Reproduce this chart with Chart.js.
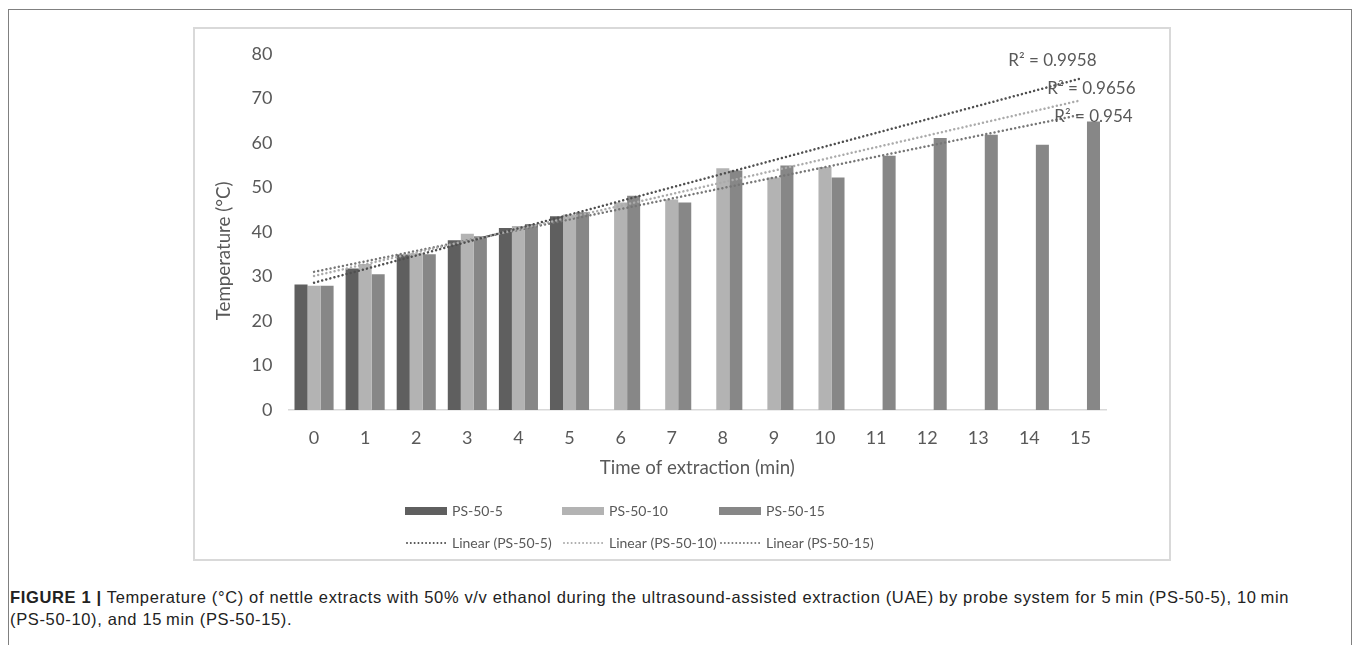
<!DOCTYPE html>
<html>
<head>
<meta charset="utf-8">
<script src="https://cdn.jsdelivr.net/npm/chart.js@4.4.1/dist/chart.umd.min.js"></script>
<style>
  html, body { margin: 0; padding: 0; background: #fff; }
  body { width: 1357px; height: 645px; position: relative; overflow: hidden; }
  #frame {
    position: absolute; left: 8px; top: 9px; width: 1344px; height: 700px;
    border: 1.5px solid #808080; box-sizing: border-box;
  }
  #box {
    position: absolute; left: 193px; top: 27px; width: 978px; height: 534px;
    border: 2px solid #d9d9d9; box-sizing: border-box; background: #fff;
  }
  #wrap { position: absolute; left: 193px; top: 27px; width: 978px; height: 534px; }
  #caption {
    position: absolute; left: 10px; top: 586px; width: 1340px;
    font-family: "Liberation Sans", Arial, sans-serif; font-size: 16.5px;
    letter-spacing: 0.65px; line-height: 22px; color: #222; white-space: nowrap;
  }
  #caption b { font-weight: bold; }
</style>
</head>
<body>
<div id="frame"></div>
<div id="box"></div>
<div id="wrap"><canvas id="chart" width="978" height="534"></canvas></div>
<div id="caption"><b>FIGURE 1 |</b> Temperature (°C) of nettle extracts with 50% v/v ethanol during the ultrasound-assisted extraction (UAE) by probe system for 5&#8201;min (PS-50-5), 10&#8201;min<br>(PS-50-10), and 15&#8201;min (PS-50-15).</div>
<script>
// Extraction time (min) on the category axis
const categories = ['0','1','2','3','4','5','6','7','8','9','10','11','12','13','14','15'];

// Temperature (°C) for each probe run
const ps50_5  = [28.2, 31.8, 34.9, 38.1, 40.9, 43.5, null, null, null, null, null, null, null, null, null, null];
const ps50_10 = [27.9, 32.8, 35.2, 39.6, 41.3, 43.9, 46.6, 47.3, 54.3, 52.2, 54.6, null, null, null, null, null];
const ps50_15 = [27.9, 30.5, 35.0, 39.0, 41.8, 44.4, 48.1, 46.6, 53.8, 54.9, 52.2, 57.1, 61.1, 61.8, 59.6, 64.8];

const seriesNames = ['PS-50-5', 'PS-50-10', 'PS-50-15'];
const trendNames  = ['Linear (PS-50-5)', 'Linear (PS-50-10)', 'Linear (PS-50-15)'];
const r2Labels    = ['R\u00B2 = 0.9958', 'R\u00B2 = 0.9656', 'R\u00B2 = 0.954'];
const yTitle = 'Temperature (°C)';
const xTitle = 'Time of extraction (min)';

// Value axis
const yMin = 0, yMax = 80, yStep = 10;

// Styling
const barColors   = ['#5f5f5f', '#b3b3b3', '#878787'];
const trendColors = ['#4f4f4f', '#ababab', '#767676'];
const FONT = 'Lato, "Open Sans", sans-serif';
const TEXT = '#595959';
const FS = 17;
const TICK_FS = 18;
const TITLE_FS = 18.7;
const LEGEND_FS = 14;
// where each R² caption sits relative to the end of its trend line (px)
const r2Offsets = [[-28, -18], [11, -12], [13, 2]];

// least-squares line through the non-empty points of a series
function linearFit(values) {
  const pts = values.map((v, i) => [i, v]).filter(p => p[1] !== null);
  const n = pts.length;
  const mx = pts.reduce((s, p) => s + p[0], 0) / n;
  const my = pts.reduce((s, p) => s + p[1], 0) / n;
  let sxy = 0, sxx = 0;
  pts.forEach(p => { sxy += (p[0] - mx) * (p[1] - my); sxx += (p[0] - mx) ** 2; });
  const slope = sxy / sxx;
  return { slope, intercept: my - slope * mx };
}

const series = [ps50_5, ps50_10, ps50_15];
const first = 0, last = categories.length - 1;

const barSets = series.map((vals, i) => ({
  type: 'bar', label: seriesNames[i], data: vals,
  backgroundColor: barColors[i], borderWidth: 0, order: 2,
  categoryPercentage: 0.765, barPercentage: 1.0
}));

const trendSets = series.map((vals, i) => {
  const f = linearFit(vals);
  return {
    type: 'line', label: trendNames[i],
    data: [
      { x: categories[first], y: f.intercept + f.slope * first },
      { x: categories[last],  y: f.intercept + f.slope * last }
    ],
    borderColor: trendColors[i], borderWidth: 2.5, borderDash: [0.01, 4.2],
    borderCapStyle: 'round', pointRadius: 0, tension: 0, fill: false, order: 1
  };
});

// Axis title, R² captions next to the trend line ends, and the two-row legend
const annotate = {
  id: 'annotate',
  afterDatasetsDraw(chart) {
    const ctx = chart.ctx;
    const xs = chart.scales.x, ys = chart.scales.y;
    const area = chart.chartArea;
    ctx.save();
    ctx.font = FS + 'px ' + FONT;
    ctx.fillStyle = TEXT;
    ctx.textAlign = 'center';
    ctx.textBaseline = 'middle';
    trendSets.forEach((ds, i) => {
      const end = ds.data[1];
      const px = xs.getPixelForValue(xs.getLabels().indexOf(end.x));
      const py = ys.getPixelForValue(end.y);
      ctx.fillText(r2Labels[i], px + r2Offsets[i][0], py + r2Offsets[i][1]);
    });
    // vertical value-axis title
    ctx.font = TITLE_FS + 'px ' + FONT;
    ctx.translate(31, (area.top + area.bottom) / 2 + 19);
    ctx.rotate(-Math.PI / 2);
    ctx.fillText(yTitle, 0, 0);
    ctx.restore();
  },
  afterDraw(chart) {
    const ctx = chart.ctx;
    const colX = [212, 369, 526];
    const row1 = 484, row2 = 516;
    ctx.save();
    ctx.font = LEGEND_FS + 'px ' + FONT;
    ctx.textBaseline = 'middle';
    ctx.textAlign = 'left';
    for (let i = 0; i < 3; i++) {
      ctx.fillStyle = barColors[i];
      ctx.fillRect(colX[i], row1 - 4, 42, 8);
      ctx.fillStyle = TEXT;
      ctx.fillText(seriesNames[i], colX[i] + 47, row1);
      ctx.beginPath();
      ctx.strokeStyle = trendColors[i];
      ctx.lineWidth = 2;
      ctx.lineCap = 'round';
      ctx.setLineDash([0.01, 3.8]);
      ctx.moveTo(colX[i] + 2, row2);
      ctx.lineTo(colX[i] + 42, row2);
      ctx.stroke();
      ctx.setLineDash([]);
      ctx.fillText(trendNames[i], colX[i] + 47, row2);
    }
    ctx.restore();
  }
};

new Chart(document.getElementById('chart'), {
  data: { labels: categories, datasets: [...barSets, ...trendSets] },
  options: {
    responsive: false,
    animation: false,
    devicePixelRatio: 1,
    layout: { padding: { left: 18, right: 65, top: 23, bottom: 82 } },
    plugins: { legend: { display: false }, tooltip: { enabled: false } },
    scales: {
      x: {
        type: 'category',
        offset: true,
        grid: { display: false, drawTicks: false },
        border: { display: true, color: '#d9d9d9', width: 1.5 },
        ticks: { color: TEXT, font: { family: FONT, size: TICK_FS }, padding: 17, maxRotation: 0, autoSkip: false },
        title: { display: true, text: xTitle, color: TEXT, font: { family: FONT, size: TITLE_FS }, padding: { top: 0, bottom: 0 } },
        afterFit(s) { s.height = 69; }
      },
      y: {
        min: yMin, max: yMax,
        grid: { display: false, drawTicks: false },
        border: { display: false },
        ticks: { stepSize: yStep, color: TEXT, font: { family: FONT, size: TICK_FS }, padding: 16 },
        title: { display: false },
        afterFit(s) { s.width = 77.5; }
      }
    }
  },
  plugins: [annotate]
});
</script>
</body>
</html>
